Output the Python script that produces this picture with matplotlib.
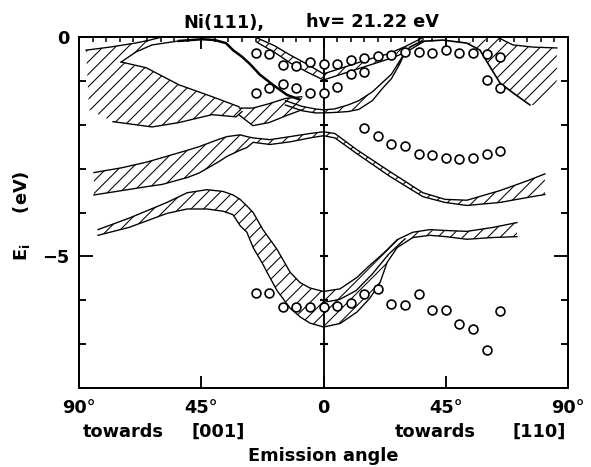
import numpy as np
import matplotlib
matplotlib.use('Agg')
import matplotlib.pyplot as plt
from matplotlib.ticker import FixedLocator, MultipleLocator

plt.rcParams['font.family'] = ['DejaVu Sans']
plt.rcParams['font.weight'] = 'bold'
plt.rcParams['hatch.linewidth'] = 1.0
plt.rcParams['mathtext.fontset'] = 'dejavusans'

# ---------------- data (emission angle in deg, energy in eV) ----------------
# measured peaks (circles)
row1_x = [-25, -20, -15, -10, -5, 0, 5, 10, 15, 20, 25, 30, 35, 40, 45, 50, 55, 60, 65]
row1_y = [-0.36, -0.39, -0.64, -0.66, -0.57, -0.61, -0.61, -0.52, -0.48, -0.43, -0.41,
          -0.34, -0.34, -0.36, -0.30, -0.36, -0.36, -0.39, -0.45]
row2_x = [-25, -20, -15, -10, -5, 0, 5, 10, 15, 60, 65]
row2_y = [-1.27, -1.16, -1.07, -1.16, -1.27, -1.27, -1.14, -0.84, -0.80, -0.98, -1.16]
row3_x = [15, 20, 25, 30, 35, 40, 45, 50, 55, 60, 65]
row3_y = [-2.07, -2.25, -2.43, -2.48, -2.66, -2.68, -2.75, -2.77, -2.75, -2.66, -2.59]
row4_x = [-25, -20, -15, -10, -5, 0, 5, 10, 15, 20, 25, 30, 35, 40, 45, 50, 55, 60, 65]
row4_y = [-5.83, -5.83, -6.16, -6.16, -6.16, -6.16, -6.14, -6.07, -5.86, -5.75, -6.09,
          -6.11, -5.86, -6.23, -6.23, -6.55, -6.66, -7.14, -6.25]

# region A (top left)
A_top_x = [-87.4, -78.6, -69.4, -63.9, -59.5]
A_top_y = [-0.30, -0.23, -0.14, -0.07, 0.0]
dome_x = [-74.5, -69.0, -63.1, -53.2, -44.7, -40.0, -35.9, -33.3, -30.0, -27.0, -23.4, -18.6, -13.4, -9.0]
dome_y = [-0.57, -0.34, -0.18, -0.09, -0.05, -0.07, -0.14, -0.30, -0.45, -0.62, -0.86, -1.09, -1.32, -1.42]
A_up_x = [-74.5, -65.3, -53.2, -41.0, -31.1]
A_up_y = [-0.57, -0.70, -1.09, -1.36, -1.59]
A_lo_x = [-77.5, -63.1, -53.2, -41.0, -32.2, -30.0]
A_lo_y = [-1.93, -2.05, -1.95, -1.77, -1.82, -1.70]
A_open_x = [-86.3]
A_open_y = [-1.66]

# band A2
A2_x = [-31, -26, -20, -14, -8]
A2_up = [-1.62, -1.62, -1.52, -1.40, -1.36]
A2_lo = [-1.78, -2.02, -1.95, -1.80, -1.66]

# band B
B_x = [-24.5, -18, -12.3, -6, 0]
B_up = [-0.02, -0.20, -0.41, -0.62, -0.84]
B_lo = [-0.12, -0.35, -0.59, -0.80, -0.98]

# band C
C_x = [0, 8, 16, 24, 30, 37]
C_up = [-0.84, -0.68, -0.52, -0.38, -0.22, 0.0]
C_lo = [-0.98, -0.82, -0.66, -0.50, -0.36, -0.10]

# band D (U shaped near -1.7 eV)
D_x = [-14, -8, -3, 0, 4, 9, 13, 18, 22, 25, 28, 29.5]
D_in = [-1.45, -1.58, -1.64, -1.66, -1.64, -1.55, -1.45, -1.25, -1.02, -0.85, -0.55, -0.40]
D_out = [-1.55, -1.68, -1.73, -1.73, -1.72, -1.70, -1.65, -1.45, -1.15, -0.95, -0.62, -0.42]

# hill and region E (top right)
hill_x = [29.3, 31.8, 36, 44, 52.8, 57.6, 61.3, 65, 69.7, 76]
hill_y = [-0.45, -0.23, -0.10, -0.07, -0.14, -0.30, -0.68, -1.05, -1.27, -1.55]
E_top_x = [64, 66.1, 69.7, 77.1, 85.9]
E_top_y = [0.0, -0.07, -0.18, -0.23, -0.25]
E_open_x = [80.8, 85.9]
E_open_y = [-1.55, -1.0]

# band F (-2 ... -4 eV)
F_x = [-84.5, -74.2, -65.0, -59.4, -50.0, -45.8, -38.5, -35.5, -30.7, -28.2, -25.9, -19.7,
       -12.3, -5.0, 0.0, 4.2, 12.3, 24.5, 36.6, 44.7, 52.8, 65.0, 74.9, 81.5]
F_up = [-3.09, -2.98, -2.85, -2.75, -2.58, -2.50, -2.33, -2.27, -2.23, -2.27, -2.30, -2.34,
        -2.27, -2.20, -2.16, -2.20, -2.57, -3.07, -3.55, -3.70, -3.72, -3.50, -3.28, -3.12]
F_lo = [-3.60, -3.50, -3.41, -3.36, -3.20, -3.10, -2.84, -2.72, -2.58, -2.52, -2.40, -2.45,
        -2.39, -2.30, -2.25, -2.30, -2.66, -3.18, -3.64, -3.77, -3.84, -3.77, -3.66, -3.59]

# lower U band (-3.5 ... -6.6 eV)
U_x = [-83.0, -71.6, -57.6, -50.2, -42.9, -37.0, -33.3, -30.7, -28.2, -25.9, -22.3, -20.8,
       -17.1, -12.3, -8.6, -5.0, 0.0, 6.1, 12.3, 17.1, 20.8, 23.4, 27.1, 32.9, 39.2, 45.0,
       52.8, 62.4, 71.2]
U_in = [-4.39, -4.13, -3.77, -3.55, -3.48, -3.52, -3.60, -3.70, -3.85, -4.00, -4.39, -4.52,
        -4.84, -5.36, -5.60, -5.72, -5.80, -5.74, -5.48, -5.20, -5.00, -4.85, -4.62, -4.45,
        -4.39, -4.41, -4.43, -4.34, -4.23]
U_out = [-4.52, -4.34, -4.02, -3.92, -3.92, -3.97, -4.05, -4.30, -4.45, -4.80, -5.18, -5.36,
         -5.78, -6.18, -6.38, -6.52, -6.61, -6.53, -6.27, -5.95, -5.60, -5.14, -4.80, -4.57,
         -4.52, -4.55, -4.61, -4.57, -4.55]
U_mid_x = [0, 6, 12, 18, 24, 30]
U_mid_y = [-6.05, -5.98, -5.78, -5.40, -4.95, -4.60]

xtick_pos = [-90, -45, 0, 45, 90]
xtick_lab = ['90°', '45°', '0', '45°', '90°']
ytick_pos = [-5, 0]
ytick_lab = ['−5', '0']

# ---------------- figure ----------------
DPI = 75
W, H = 591, 467
fig = plt.figure(figsize=(W / DPI, H / DPI), dpi=DPI)
ax = fig.add_axes([79 / W, 1 - 388 / H, 489 / W, 351 / H])
ax.set_xlim(-90, 90)
ax.set_ylim(-8, 0)

LW = 1.3
HKW = dict(facecolor='none', edgecolor='black', linewidth=0, hatch='//')


def band(x, up, lo):
    ax.fill_between(x, lo, up, **HKW)
    ax.plot(x, up, color='k', lw=LW)
    ax.plot(x, lo, color='k', lw=LW)


# region A polygon
ipoly = [i for i, v in enumerate(dome_x) if v <= -60][::-1]
Apx = A_top_x + [dome_x[i] for i in ipoly] + A_up_x + A_lo_x[::-1] + A_open_x
Apy = A_top_y + [dome_y[i] for i in ipoly] + A_up_y + A_lo_y[::-1] + A_open_y
ax.fill(Apx, Apy, **HKW)
ax.plot(A_top_x, A_top_y, color='k', lw=LW)
ax.plot(A_up_x, A_up_y, color='k', lw=LW)
ax.plot(A_lo_x, A_lo_y, color='k', lw=LW)
ax.plot(dome_x[:4], dome_y[:4], color='k', lw=LW)
ax.plot(dome_x[3:], dome_y[3:], color='k', lw=2.4)

band(A2_x, A2_up, A2_lo)
band(B_x, B_up, B_lo)
band(C_x, C_up, C_lo)
band(D_x, D_in, D_out)
band(F_x, F_up, F_lo)
band(U_x, U_in, U_out)
ax.plot(U_mid_x, U_mid_y, color='k', lw=LW)

# region E polygon
ih = [i for i, v in enumerate(hill_x) if v >= 52]
Epx = [hill_x[i] for i in ih] + E_open_x + E_top_x[::-1]
Epy = [hill_y[i] for i in ih] + E_open_y + E_top_y[::-1]
ax.fill(Epx, Epy, **HKW)
ax.plot(hill_x, hill_y, color='k', lw=1.6)
ax.plot(E_top_x, E_top_y, color='k', lw=LW)

# circles
for xs, ys in [(row1_x, row1_y), (row2_x, row2_y), (row3_x, row3_y), (row4_x, row4_y)]:
    ax.plot(xs, ys, ls='none', marker='o', ms=8.5, mfc='white', mec='black', mew=1.6, zorder=5)

# centre line with small ticks
ax.axvline(0, color='k', lw=1.8, zorder=4)
ax.plot(np.zeros(7), np.arange(-7, 0), ls='none', marker='_', ms=8, mew=2, color='k', zorder=4)

# axes styling
for s in ax.spines.values():
    s.set_linewidth(1.9)
ax.xaxis.set_major_locator(FixedLocator(xtick_pos))
ax.set_xticklabels(xtick_lab)
ax.xaxis.set_minor_locator(MultipleLocator(5))
ax.yaxis.set_major_locator(FixedLocator(ytick_pos))
ax.set_yticklabels(ytick_lab)
ax.yaxis.set_minor_locator(MultipleLocator(1))
ax.tick_params(axis='x', which='major', direction='in', top=True, bottom=True,
               length=11.5, width=1.8, labelsize=17, pad=11)
ax.tick_params(axis='x', which='minor', direction='in', top=True, bottom=False,
               length=4.8, width=1.5)
ax.tick_params(axis='y', which='major', direction='in', left=True, right=True,
               length=13, width=1.8, labelsize=17, pad=9)
ax.tick_params(axis='y', which='minor', direction='in', left=True, right=True,
               length=6.5, width=1.8)

# texts
fs = 17
fig.text(183 / W, 1 - 28 / H, 'Ni(111),', ha='left', va='baseline', fontsize=fs)
fig.text(306 / W, 1 - 27 / H, 'hv= 21.22 eV', ha='left', va='baseline', fontsize=fs)
fig.text(83 / W, 1 - 437 / H, 'towards', ha='left', va='baseline', fontsize=fs)
fig.text(192 / W, 1 - 437 / H, '[001]', ha='left', va='baseline', fontsize=fs)
fig.text(395 / W, 1 - 437 / H, 'towards', ha='left', va='baseline', fontsize=fs)
fig.text(512 / W, 1 - 437 / H, '[110]', ha='left', va='baseline', fontsize=fs)
fig.text(248 / W, 1 - 461 / H, 'Emission angle', ha='left', va='baseline', fontsize=fs)
fig.text(22 / W, 1 - 216 / H, r'$\mathbf{E_i}$     (eV)', ha='center', va='center',
         rotation=90, fontsize=fs)

fig.savefig('out.png', dpi=DPI)
